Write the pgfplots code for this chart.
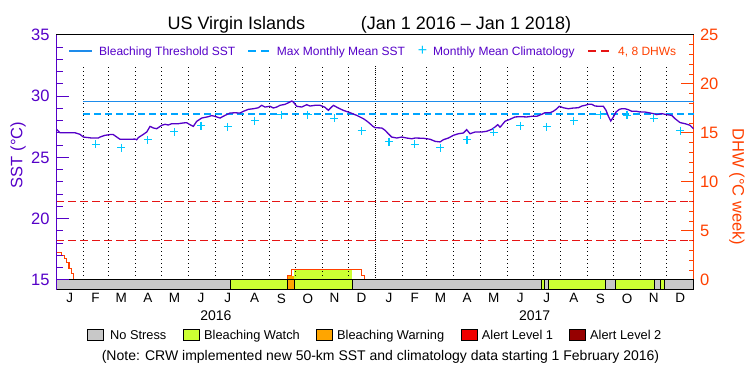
\documentclass[border=0pt]{standalone}
\usepackage{pgfplots}
\pgfplotsset{compat=1.18}
\usepackage{fontspec}
\setmainfont{Liberation Sans}
\definecolor{sstpurple}{RGB}{85,0,200}
\definecolor{thrblue}{RGB}{30,140,235}
\definecolor{mmmblue}{RGB}{0,165,255}
\definecolor{climcyan}{RGB}{0,200,255}
\definecolor{dhwred}{RGB}{255,64,0}
\definecolor{dhwdash}{RGB}{230,20,20}
\definecolor{nostress}{RGB}{200,200,200}
\definecolor{watch}{RGB}{204,255,51}
\definecolor{warning}{RGB}{255,165,0}
\definecolor{alertone}{RGB}{240,0,0}
\definecolor{alerttwo}{RGB}{150,0,0}
\newcommand\fs[1]{\fontsize{#1}{#1}\selectfont}

\pgfplotstableread{
day sst
0.4 27.30
4.2 27.02
21.4 27.02
27.2 26.89
31 26.67
40.6 26.59
48.2 26.59
50.1 26.67
55.8 26.81
61.6 26.87
65.4 26.87
69.3 26.67
73 26.49
82.6 26.49
90.3 26.50
92.2 26.45
94 26.62
99.8 26.89
103.7 27.08
107.5 27.54
111.2 27.41
115.1 27.35
120.9 27.63
124.7 27.71
128.4 27.65
132.3 27.76
139.9 27.76
145.6 27.82
149.5 27.84
153.3 27.68
157.1 27.54
161 27.95
166.7 28.22
174.3 28.33
178 28.42
182 28.36
187.7 28.22
193.5 28.44
199.2 28.63
204.9 28.65
210.7 28.63
214.5 28.77
220.2 28.93
225.9 28.98
231.7 29.06
235.5 29.26
239.3 29.12
245.1 29.18
248.9 29.04
252.8 29.12
256.6 29.26
262.3 29.34
266.1 29.47
270 29.61
271.8 29.53
275.7 29.18
281.4 29.12
287.2 29.31
290.9 29.20
296.7 29.26
302.4 29.26
308.1 29.10
311.9 28.85
317.7 29.26
323.4 29.04
329.1 28.85
336.8 28.66
344.5 28.44
352.1 28.17
356 27.98
359.7 27.76
363 27.55
365.5 27.43
373.2 27.41
377 27.22
380.7 26.94
384.6 26.67
390.4 26.59
396.1 26.67
401.8 26.59
407.6 26.53
411.4 26.59
420.9 26.57
428.6 26.49
434.3 26.32
440 26.27
443.8 26.45
449.6 26.59
455.3 26.81
461.1 26.94
466.8 27.00
470.6 27.27
474.4 26.94
480.2 27.08
487.8 27.08
493.6 27.14
499.3 27.30
503.1 27.49
506.2 27.68
508.8 27.47
510.8 27.63
514.6 27.96
520.3 28.12
526 28.31
531.8 28.33
539.4 28.31
545.2 28.36
550.9 28.36
556.7 28.53
560.4 28.66
566.2 28.66
569.9 28.77
573.9 28.98
576.8 29.18
581.4 29.06
587.2 28.98
592.9 29.04
598.6 29.06
602.5 29.20
606.3 29.26
610.1 29.34
614 29.34
617.8 29.20
623.5 29.18
627.3 29.18
630.4 28.85
633.1 28.36
635.8 27.98
638.8 28.31
641.8 28.71
645.6 28.93
648.4 28.98
652.2 28.98
656 28.90
659.9 28.77
665.6 28.77
669.4 28.71
675.1 28.71
678.9 28.66
684.6 28.58
688.5 28.50
694.2 28.58
700 28.50
705.7 28.44
709.5 28.17
715.2 27.85
721 27.76
726.7 27.63
730.5 27.35
}\ssttable

\pgfplotstableread{
day clim
45 26.08
74.5 25.80
105 26.45
135.5 27.10
166 27.60
196.5 27.50
227.5 28.00
258 28.50
288.5 28.50
319 28.20
350 27.20
381.5 26.30
411 26.08
440.5 25.80
471 26.45
501.5 27.05
532 27.60
562.5 27.50
593.5 28.00
624 28.50
654.5 28.45
685 28.20
715.5 27.20
}\climtable

\begin{document}
\begin{tikzpicture}[x=1pt,y=1pt]
\useasboundingbox (0,0) rectangle (750,375);

% ---------- DHW axis (right) ----------
\begin{axis}[
  at={(56.3pt,85pt)}, anchor=south west,
  width=637.5pt, height=255pt, scale only axis,
  xmin=0, xmax=731, ymin=-1.0204, ymax=25,
  axis x line=none, axis y line*=right,
  y axis line style={dhwred, line width=1pt},
  ytick={0,5,10,15,20,25},
  minor ytick={1,2,3,4,6,7,8,9,11,12,13,14,16,17,18,19,21,22,23,24},
  tick align=inside, major tick length=13pt, minor tick length=4.5pt,
  tick style={dhwred, line width=1pt},
  yticklabel style={text=dhwred, font=\fs{16.5}, inner sep=0pt, anchor=west},
  yticklabel shift=6pt,
  /pgf/number format/assume math mode=true,
]
% 4 and 8 DHW lines
\addplot[dhwdash, line width=1pt, dash pattern=on 8pt off 4pt] coordinates {(0,4) (731,4)};
\addplot[dhwdash, line width=1pt, dash pattern=on 8pt off 4pt] coordinates {(0,8) (731,8)};
% stress fill under DHW
\addplot[fill=warning, draw=none] coordinates {(264.9,0) (272.9,0) (272.9,0.44) (264.9,0.44)} --cycle;
\addplot[fill=watch, draw=none] coordinates {(272.9,0) (339.4,0) (339.4,1.09) (272.9,1.09)} --cycle;
% DHW lines
\addplot[dhwred, line width=1.2pt] coordinates {(0,2.83) (6,2.83) (6,2.5) (9,2.5) (9,2.2) (12,2.2) (12,1.75) (14.5,1.75) (14.5,1.2) (17,1.2) (17,0.7) (20,0.7) (20,0)};
\addplot[dhwred, line width=1.2pt] coordinates {(264.9,0) (264.9,0.44) (269.9,0.44) (269.9,1.09) (350.2,1.09) (350.2,0.44) (353.2,0.44) (353.2,0)};
% stress bar
\addplot[fill=nostress, draw=black, line width=1pt] coordinates {(0,-1.0204) (200,-1.0204) (200,0) (0,0)} --cycle;
\addplot[fill=watch, draw=black, line width=1pt] coordinates {(200,-1.0204) (264.9,-1.0204) (264.9,0) (200,0)} --cycle;
\addplot[fill=warning, draw=black, line width=1pt] coordinates {(264.9,-1.0204) (272.9,-1.0204) (272.9,0) (264.9,0)} --cycle;
\addplot[fill=watch, draw=black, line width=1pt] coordinates {(272.9,-1.0204) (339.4,-1.0204) (339.4,0) (272.9,0)} --cycle;
\addplot[fill=nostress, draw=black, line width=1pt] coordinates {(339.4,-1.0204) (555.8,-1.0204) (555.8,0) (339.4,0)} --cycle;
\addplot[fill=watch, draw=black, line width=1pt] coordinates {(555.8,-1.0204) (559.6,-1.0204) (559.6,0) (555.8,0)} --cycle;
\addplot[fill=nostress, draw=black, line width=1pt] coordinates {(559.6,-1.0204) (564.2,-1.0204) (564.2,0) (559.6,0)} --cycle;
\addplot[fill=watch, draw=black, line width=1pt] coordinates {(564.2,-1.0204) (629.2,-1.0204) (629.2,0) (564.2,0)} --cycle;
\addplot[fill=nostress, draw=black, line width=1pt] coordinates {(629.2,-1.0204) (641.1,-1.0204) (641.1,0) (629.2,0)} --cycle;
\addplot[fill=watch, draw=black, line width=1pt] coordinates {(641.1,-1.0204) (685.8,-1.0204) (685.8,0) (641.1,0)} --cycle;
\addplot[fill=nostress, draw=black, line width=1pt] coordinates {(685.8,-1.0204) (692.3,-1.0204) (692.3,0) (685.8,0)} --cycle;
\addplot[fill=watch, draw=black, line width=1pt] coordinates {(692.3,-1.0204) (697.2,-1.0204) (697.2,0) (692.3,0)} --cycle;
\addplot[fill=nostress, draw=black, line width=1pt] coordinates {(697.2,-1.0204) (731,-1.0204) (731,0) (697.2,0)} --cycle;
\end{axis}

% ---------- SST axis (left) ----------
\begin{axis}[
  at={(56.3pt,85pt)}, anchor=south west,
  width=637.5pt, height=255pt, scale only axis,
  xmin=0, xmax=731, ymin=14.1837, ymax=35,
  axis x line*=box, axis y line*=left,
  x axis line style={black, line width=1pt},
  y axis line style={sstpurple, line width=1pt},
  xtick={15.5,45,74.5,105,135.5,166,196.5,227.5,258,288.5,319,350,381.5,411,440.5,471,501.5,532,562.5,593.5,624,654.5,685,715.5},
  xticklabels={J,F,M,A,M,J,J,A,S,O,N,D,J,F,M,A,M,J,J,A,S,O,N,D},
  major x tick style={draw=none},
  xticklabel style={font=\fs{13.5}, inner sep=0pt, anchor=north, text=black},
  xticklabel shift=3.5pt,
  ytick={15,20,25,30,35},
  minor ytick={16,17,18,19,21,22,23,24,26,27,28,29,31,32,33,34},
  tick align=inside, major tick length=13pt, minor tick length=6.5pt,
  tick style={sstpurple, line width=1pt},
  yticklabel style={text=sstpurple, font=\fs{16.5}, inner sep=0pt, anchor=east},
  yticklabel shift=6.5pt,
  /pgf/number format/assume math mode=true,
]
\pgfplotsinvokeforeach{31,60,91,121,152,182,213,244,274,305,335,397,425,456,486,517,547,578,609,639,670,700}{
  \draw[black, line width=1pt, dash pattern=on 1pt off 3pt] (axis cs:#1,15) -- (axis cs:#1,32.55);
}
\draw[black, line width=1pt, dash pattern=on 1pt off 1.2pt] (axis cs:366,15) -- (axis cs:366,32.55);
\addplot[thrblue, line width=1.1pt] coordinates {(31,29.56) (731,29.56)};
\addplot[mmmblue, line width=1.1pt, dash pattern=on 7pt off 4pt] coordinates {(31,28.55) (731,28.55)};
\addplot[only marks, mark=+, mark size=4pt, climcyan, mark options={line width=1.2pt}] table[x=day, y=clim] {\climtable};
\addplot[sstpurple, line width=1.3pt] table[x=day, y=sst] {\ssttable};
\end{axis}

% ---------- titles and labels ----------
\node[anchor=base west, font=\fs{18}] at (164,345) {US Virgin Islands};
\node[anchor=base, font=\fs{18}] at (466,345) {(Jan 1 2016 – Jan 1 2018)};
\node[rotate=90, font=\fs{16.5}, text=sstpurple] at (18,220) {SST (°C)};
\node[rotate=-90, font=\fs{16.5}, text=dhwred] at (737,188) {DHW (°C week)};
\node[font=\fs{14}] at (215.9,59.3) {2016};
\node[font=\fs{14}] at (534.6,59.3) {2017};

% ---------- top legend ----------
\draw[thrblue, line width=1.1pt] (69,324) -- (92,324);
\node[anchor=base west, inner sep=0pt, font=\fs{12}, text=sstpurple] at (99,319.5) {Bleaching Threshold SST};
\draw[mmmblue, line width=1.1pt, dash pattern=on 8pt off 5pt] (248,324) -- (270,324);
\node[anchor=base west, inner sep=0pt, font=\fs{12}, text=sstpurple] at (276.7,319.5) {Max Monthly Mean SST};
\node[inner sep=0pt, font=\fs{16}, text=climcyan] at (422.5,324.5) {+};
\node[anchor=base west, inner sep=0pt, font=\fs{12}, text=sstpurple] at (433,319.5) {Monthly Mean Climatology};
\draw[dhwdash, line width=1.1pt, dash pattern=on 8pt off 5pt] (588,324) -- (612,324);
\node[anchor=base west, inner sep=0pt, font=\fs{12}, text=dhwred] at (618,319.5) {4, 8 DHWs};

% ---------- bottom legend ----------
\draw[fill=nostress, line width=1pt] (87.3,34) rectangle (103.3,45.7);
\node[anchor=base west, inner sep=0pt, font=\fs{12.8}] at (110,35) {No Stress};
\draw[fill=watch, line width=1pt] (183.3,34) rectangle (199.3,45.7);
\node[anchor=base west, inner sep=0pt, font=\fs{12.8}] at (204,35) {Bleaching Watch};
\draw[fill=warning, line width=1pt] (316.7,34) rectangle (332.7,45.7);
\node[anchor=base west, inner sep=0pt, font=\fs{12.8}] at (337,35) {Bleaching Warning};
\draw[fill=alertone, line width=1pt] (461,34) rectangle (477.7,45.7);
\node[anchor=base west, inner sep=0pt, font=\fs{12.8}] at (481.7,35) {Alert Level 1};
\draw[fill=alerttwo, line width=1pt] (569.3,34) rectangle (585.7,45.7);
\node[anchor=base west, inner sep=0pt, font=\fs{12.8}] at (590,35) {Alert Level 2};
\node[anchor=base, inner sep=0pt, font=\fs{14}] at (380.5,15) {(Note: CRW implemented new 50-km SST and climatology data starting 1 February 2016)};
\end{tikzpicture}
\end{document}
